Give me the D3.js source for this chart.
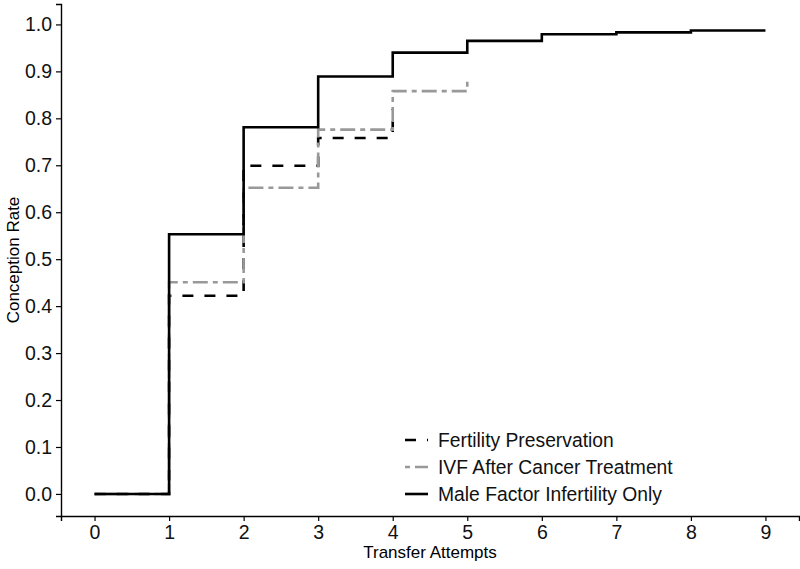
<!DOCTYPE html>
<html>
<head>
<meta charset="utf-8">
<script src="https://cdn.jsdelivr.net/npm/d3@7"></script>
<style>
  body { margin: 0; background: #fff; }
  text { font-family: "Liberation Sans", Arial, sans-serif; }
</style>
</head>
<body>
<div id="chart"></div>
<script>
// transfer attempts (x) and cumulative conception rate per group
var attempts = [0, 1, 2, 3, 4, 5, 6, 7, 8, 9];
var fertilityPreservation = [0, 0.422, 0.699, 0.758, 0.82];
var ivfAfterCancer = [0, 0.451, 0.652, 0.776, 0.858, 0.88];
var maleFactor = [0, 0.553, 0.781, 0.889, 0.940, 0.965, 0.979, 0.983, 0.987, 0.987];
var seriesNames = ['Fertility Preservation', 'IVF After Cancer Treatment', 'Male Factor Infertility Only'];
var yTicks = [0, 0.1, 0.2, 0.3, 0.4, 0.5, 0.6, 0.7, 0.8, 0.9, 1.0];

var width = 800, height = 569;
var margin = {top: 4, right: 1, bottom: 53, left: 61};

var svg = d3.select('#chart').append('svg')
    .attr('width', width)
    .attr('height', height);

var x = d3.scaleLinear()
    .domain([-0.45, 9.45])
    .range([margin.left, width - margin.right]);

var y = d3.scaleLinear()
    .domain([-0.047, 1.0435])
    .range([height - margin.bottom, margin.top]);

var series = [
    {name: seriesNames[0], values: fertilityPreservation, color: '#000', dash: '11,11'},
    {name: seriesNames[1], values: ivfAfterCancer, color: '#999', dash: '5,5,15,5'},
    {name: seriesNames[2], values: maleFactor, color: '#000', dash: null}
];

var line = d3.line()
    .x(function(d) { return x(d[0]); })
    .y(function(d) { return y(d[1]); })
    .curve(d3.curveStepAfter);

series.forEach(function(s) {
    var pts = s.values.map(function(v, i) { return [attempts[i], v]; });
    svg.append('path')
        .datum(pts)
        .attr('d', line)
        .attr('fill', 'none')
        .attr('stroke', s.color)
        .attr('stroke-width', 2.6)
        .attr('stroke-dasharray', s.dash);
});

// axes
var xAxis = svg.append('g')
    .attr('transform', 'translate(0,' + (height - margin.bottom) + ')')
    .call(d3.axisBottom(x).tickValues(attempts).tickFormat(d3.format('d')).tickSizeOuter(0).tickSize(5).tickPadding(4));
var yAxis = svg.append('g')
    .attr('transform', 'translate(' + margin.left + ',0)')
    .call(d3.axisLeft(y).tickValues(yTicks).tickFormat(d3.format('.1f')).tickSizeOuter(0).tickSize(5).tickPadding(4));

[xAxis, yAxis].forEach(function(a) {
    a.select('.domain').attr('stroke', '#000').attr('stroke-width', 1.4);
    a.selectAll('.tick line').attr('stroke', '#000').attr('stroke-width', 1.2);
    a.selectAll('.tick text')
        .attr('fill', '#111')
        .style('font-size', '19.5px')
        .style('font-family', '"Liberation Sans", Arial, sans-serif');
});

svg.append('text')
    .attr('x', (margin.left + width - margin.right) / 2)
    .attr('y', 558)
    .attr('text-anchor', 'middle')
    .style('font-size', '17px')
    .text('Transfer Attempts');

svg.append('text')
    .attr('transform', 'translate(19,' + ((margin.top + height - margin.bottom) / 2) + ') rotate(-90)')
    .attr('text-anchor', 'middle')
    .style('font-size', '17px')
    .text('Conception Rate');

// legend
var legend = svg.append('g').attr('transform', 'translate(405,440)');
series.forEach(function(s, i) {
    var row = legend.append('g').attr('transform', 'translate(0,' + (i * 27) + ')');
    row.append('line')
        .attr('x1', 0).attr('x2', 23)
        .attr('y1', 0).attr('y2', 0)
        .attr('stroke', s.color)
        .attr('stroke-width', 2.6)
        .attr('stroke-dasharray', s.dash);
    row.append('text')
        .attr('x', 33)
        .attr('y', 7)
        .style('font-size', '19.3px')
        .attr('fill', '#111')
        .text(s.name);
});
</script>
</body>
</html>
